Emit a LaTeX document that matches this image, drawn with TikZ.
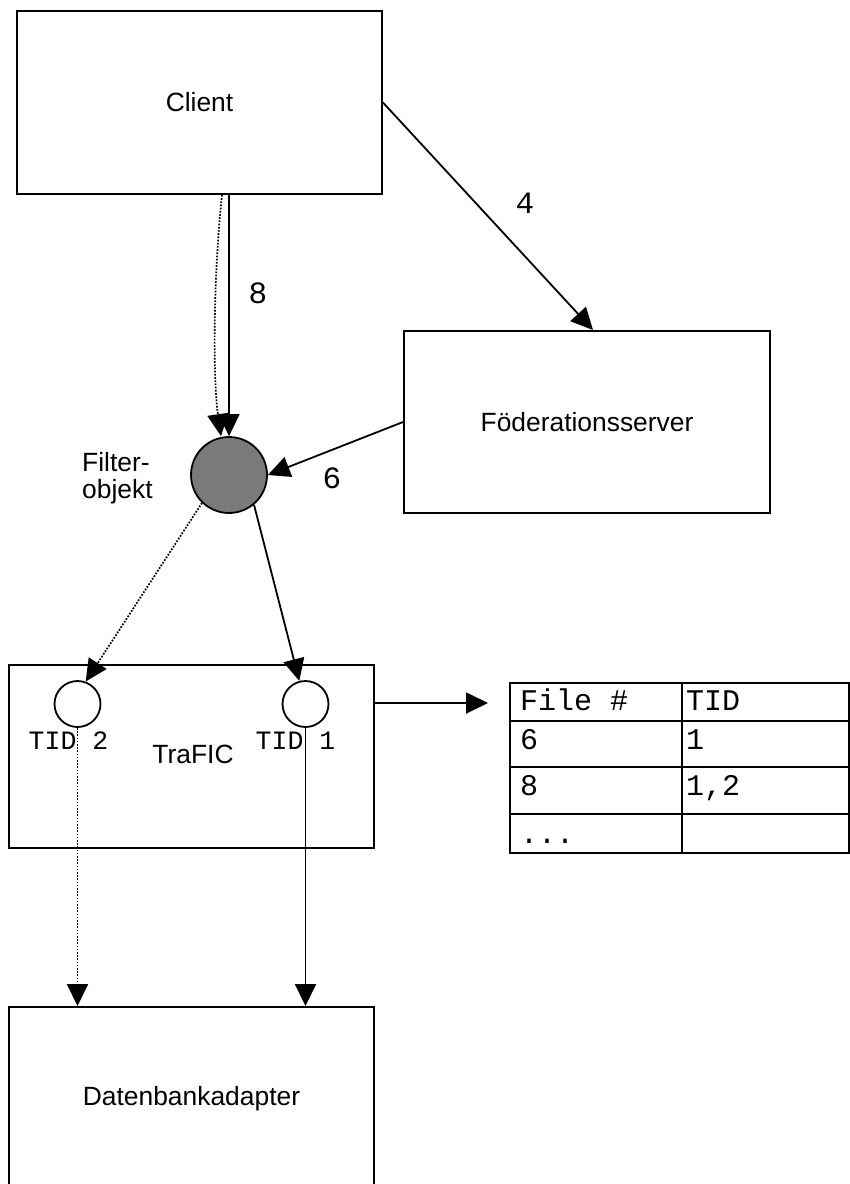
\documentclass[tikz,border=0pt]{standalone}
\usepackage{fontspec}
\setmainfont{Liberation Sans}
\newfontfamily\codefont{Liberation Mono}
\usetikzlibrary{arrows.meta}
\newcommand\sanslabel{\fontsize{26.4pt}{27pt}\selectfont}
\newcommand\tidlabel{\codefont\fontsize{26.5pt}{28pt}\selectfont}
\newcommand\tablabel{\codefont\fontsize{30pt}{32pt}\selectfont}
\newcommand\steplabel{\codefont\fontsize{31pt}{33pt}\selectfont}
\begin{document}
\begin{tikzpicture}[x=1pt,y=-1pt,
  box/.style={draw,line width=1.9pt,minimum width=365pt,minimum height=183pt,inner sep=0pt,font=\sanslabel},
  port/.style={draw,circle,line width=1.8pt,minimum size=46pt,inner sep=0pt},
  filterball/.style={draw,circle,line width=1.8pt,minimum size=76pt,inner sep=0pt,fill=black!52},
  arr/.style={line width=1.8pt,-{Triangle[length=22pt,width=21pt]}},
  dotline/.style={line width=1.7pt,dash pattern=on 1.7pt off 1.5pt},
  cell/.style={anchor=base west,inner sep=0pt,font=\tablabel},
  num/.style={anchor=base,inner sep=0pt,font=\steplabel},
  tid/.style={anchor=base,inner sep=0pt,font=\tidlabel}]
\useasboundingbox (0,0) rectangle (850,1184);

% main components
\node[box] (client) at (199.5,102.5) {Client};
\node[box,minimum width=366pt,minimum height=182pt] (foed) at (587,422) {Föderationsserver};
\node[box] (trafic) at (191.5,756.5) {};
\node[anchor=base,inner sep=0pt,font=\sanslabel] (trafictext) at (193,763) {TraFIC};
\node[box] (dba) at (191.5,1098.5) {Datenbankadapter};

% filter object
\node[filterball] (filter) at (229,475) {};
\node[anchor=north west,inner sep=0pt,align=left,font=\sanslabel] (filterlabel) at (82,452) {Filter-\\objekt};

% transaction ports inside TraFIC
\node[port] (tid2) at (77.5,704) {};
\node[port] (tid1) at (305.5,704) {};
\node[tid] (tid2label) at (68.5,749) {TID 2};
\node[tid] (tid1label) at (295.5,749) {TID 1};

% step numbers
\node[num] (n4) at (525,213) {4};
\node[num] (n8) at (258,303) {8};
\node[num] (n6) at (332,488) {6};

% connectors
\draw[arr] (client.east) -- ([xshift=6pt]foed.north);
\draw[arr] (client.south -| filter.north) -- (filter.north);
\draw[arr,dotline] ([xshift=-7pt]client.south -| filter.north)
  .. controls (213,280) and (213,380) .. ([xshift=-8pt]filter.north);
\draw[arr] (foed.west) -- (filter.east);
\draw[arr] (filter.-50) -- (tid1.105);
\draw[arr,dotline] (filter.-134) -- (tid2.70);
\draw[arr] (tid1.south) -- (tid1.south |- dba.north);
\draw[arr,dotline] (tid2.south) -- (tid2.south |- dba.north);

% file/TID table
\coordinate (tabin) at (488,703);
\draw[arr] (trafic.east |- tabin) -- (tabin);
\node[draw,line width=2.4pt,minimum width=339pt,minimum height=170pt,inner sep=0pt] (filetab) at (679.5,768) {};
\draw[line width=2.4pt] (filetab.west |- 0,721) -- (filetab.east |- 0,721)
                        (filetab.west |- 0,767) -- (filetab.east |- 0,767)
                        (filetab.west |- 0,814) -- (filetab.east |- 0,814);
\draw[line width=1.5pt] (682,0 |- filetab.north) -- (682,0 |- filetab.south);
\node[cell] (c11) at (520,710) {File \#};
\node[cell] (c12) at (686,710) {TID};
\node[cell] (c21) at (520,749) {6};
\node[cell] (c22) at (686,749) {1};
\node[cell] (c31) at (520,795) {8};
\node[cell] (c32) at (686,795) {1,2};
\node[cell] (c41) at (520,843) {...};
\end{tikzpicture}
\end{document}
